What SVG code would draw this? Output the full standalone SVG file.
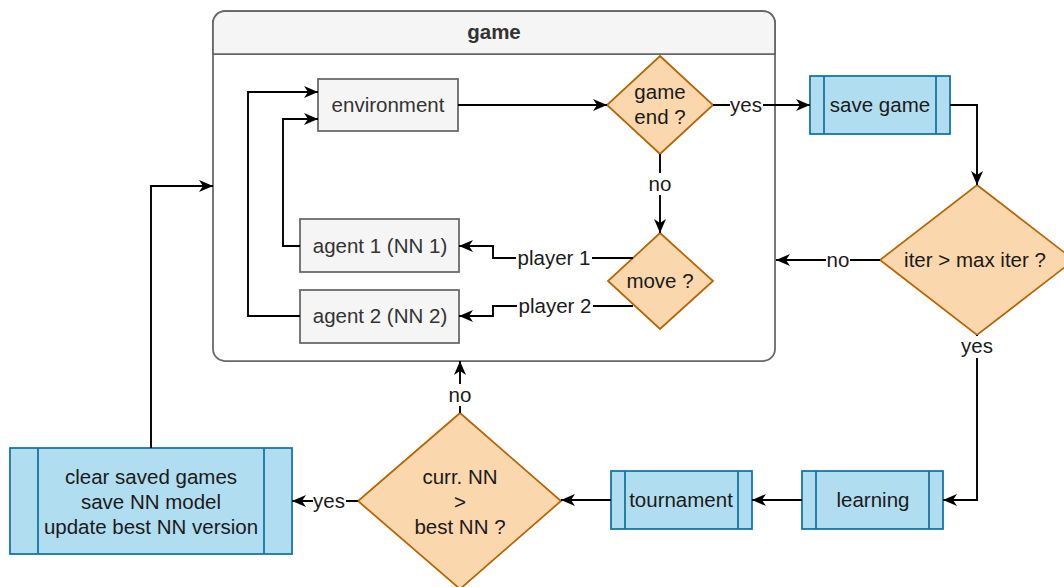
<svg xmlns="http://www.w3.org/2000/svg" width="1064" height="587" viewBox="0 0 1064 587">
<style>
text{font-family:"Liberation Sans",Arial,sans-serif;font-size:20.5px;fill:#1a1a1a;text-anchor:middle;dominant-baseline:central}
.grey{fill:#f5f5f5;stroke:#666666;stroke-width:1.75}
.gt{fill:#333333}
.dec{fill:#fad7ac;stroke:#b46504;stroke-width:1.75}
.proc{fill:#b1ddf0;stroke:#10739e;stroke-width:1.75}
.pl{stroke:#10739e;stroke-width:1.75;fill:none}
.edge{fill:none;stroke:#000;stroke-width:1.9;marker-end:url(#arr)}
.lbg{fill:#fff}
</style>
<defs>
<marker id="arr" markerUnits="userSpaceOnUse" markerWidth="15" markerHeight="13" refX="14" refY="6.5" orient="auto" viewBox="0 0 15 13">
<path d="M0,0.5 L14,6.5 L0,12.5 L4,6.5 Z" fill="#000"/>
</marker>
</defs>
<g id="game">
<rect x="213" y="11" width="562" height="350" rx="12" fill="#fff" stroke="#666666" stroke-width="1.75"/>
<path d="M213,54 V23 A12,12 0 0 1 225,11 H763 A12,12 0 0 1 775,23 V54 Z" fill="#f5f5f5" stroke="#666666" stroke-width="1.75"/>
<text x="494" y="31" style="font-weight:bold" class="gt">game</text>
</g>
<g id="environment">
<rect class="grey" x="318" y="79" width="140" height="52"/>
<text class="gt" x="388" y="104">environment</text>
</g>
<g id="game-end">
<polygon class="dec" points="660,56 713,105 660,154 607,105"/>
<text x="660" y="91">game</text>
<text x="660" y="116">end ?</text>
</g>
<g id="agent1">
<rect class="grey" x="300" y="219" width="159" height="53"/>
<text class="gt" x="380" y="245">agent 1 (NN 1)</text>
</g>
<g id="agent2">
<rect class="grey" x="300" y="290" width="159" height="53"/>
<text class="gt" x="380" y="315">agent 2 (NN 2)</text>
</g>
<g id="move">
<polygon class="dec" points="660,233 713,281 660,329 608,281"/>
<text x="660" y="280">move ?</text>
</g>
<g id="save-game">
<rect class="proc" x="810" y="76" width="140" height="58"/>
<path class="pl" d="M824,76 V134 M936,76 V134"/>
<text x="880" y="104">save game</text>
</g>
<g id="iter">
<polygon class="dec" points="977,185 1074,260 977,335 880,260"/>
<text x="975" y="259">iter &gt; max iter ?</text>
</g>
<g id="learning">
<rect class="proc" x="802" y="471" width="141" height="58"/>
<path class="pl" d="M816,471 V529 M929,471 V529"/>
<text x="873" y="499">learning</text>
</g>
<g id="tournament">
<rect class="proc" x="611" y="471" width="141" height="58"/>
<path class="pl" d="M625,471 V529 M738,471 V529"/>
<text x="681" y="499">tournament</text>
</g>
<g id="curr-nn">
<polygon class="dec" points="460,413 561,501 460,589 358,501"/>
<text x="460" y="476">curr. NN</text>
<text x="460" y="501">&gt;</text>
<text x="460" y="526">best NN ?</text>
</g>
<g id="clear">
<rect class="proc" x="10" y="448" width="282" height="106"/>
<path class="pl" d="M38,448 V554 M264,448 V554"/>
<text x="151" y="476">clear saved games</text>
<text x="151" y="501">save NN model</text>
<text x="151" y="526">update best NN version</text>
</g>
<g id="connectors">
<path class="edge" d="M458,105 H607"/>
<path class="edge" d="M713,105 H810"/>
<path class="edge" d="M660,154 V233"/>
<path class="edge" d="M633,258 H493 V246 H459"/>
<path class="edge" d="M633,306 H493 V316 H459"/>
<path class="edge" d="M300,246 H283 V119 H318"/>
<path class="edge" d="M300,316 H248 V92 H318"/>
<path class="edge" d="M950,105 H977 V185"/>
<path class="edge" d="M880,260 H776"/>
<path class="edge" d="M977,335 V500 H943"/>
<path class="edge" d="M802,500 H752"/>
<path class="edge" d="M611,500 H561"/>
<path class="edge" d="M358,501 H292"/>
<path class="edge" d="M460,413 V361"/>
<path class="edge" d="M151,448 V186 H213"/>
<rect class="lbg" x="730" y="94" width="33" height="22"/>
<text x="746" y="104">yes</text>
<rect class="lbg" x="648" y="173" width="24" height="22"/>
<text x="660" y="183">no</text>
<rect class="lbg" x="516" y="247" width="76" height="22"/>
<text x="554" y="257">player 1</text>
<rect class="lbg" x="517" y="295" width="76" height="22"/>
<text x="555" y="305">player 2</text>
<rect class="lbg" x="826" y="249" width="24" height="22"/>
<text x="838" y="259">no</text>
<rect class="lbg" x="961" y="336" width="33" height="22"/>
<text x="977" y="345">yes</text>
<rect class="lbg" x="313" y="490" width="33" height="22"/>
<text x="329" y="500">yes</text>
<rect class="lbg" x="448" y="384" width="24" height="22"/>
<text x="460" y="394">no</text>
</g>
</svg>
